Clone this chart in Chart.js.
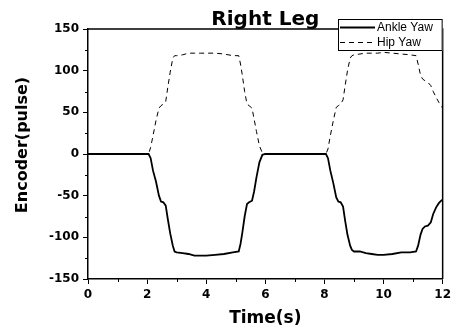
<!DOCTYPE html>
<html>
<head>
<meta charset="utf-8">
<script src="https://cdn.jsdelivr.net/npm/chart.js@4.4.1/dist/chart.umd.min.js"></script>
<style>
  html, body { margin: 0; padding: 0; background: #fff; }
</style>
</head>
<body>
<canvas id="grafico" width="455" height="333"></canvas>
<script>
// tempo (s)
const tempo = [0, 2.05, 2.12, 2.2, 2.3, 2.4, 2.47, 2.55, 2.63, 2.7, 2.78, 2.87, 2.93, 3.0, 3.2, 3.4, 3.6, 3.8, 4.0, 4.3, 4.6, 4.9,
  5.1, 5.16, 5.22, 5.3, 5.38, 5.45, 5.55, 5.62, 5.7, 5.8, 5.9, 6.0, 6.5, 7.0, 7.5, 8.05, 8.12, 8.2, 8.3, 8.4, 8.47, 8.55, 8.63,
  8.7, 8.78, 8.87, 8.93, 9.0, 9.2, 9.4, 9.6, 9.8, 10.0, 10.3, 10.6, 10.9, 11.1, 11.17, 11.25, 11.32, 11.4, 11.5, 11.6, 11.68,
  11.78, 11.87, 11.95, 12.0];

// encoder (pulse)
const ankleYaw = [0, 0, -5, -20, -33, -50, -57, -58, -62, -78, -95, -110, -117, -118, -119, -120, -122, -122, -122, -121, -120, -118,
  -117, -108, -95, -75, -60, -58, -56, -45, -28, -10, -1, 0, 0, 0, 0, 0, -5, -20, -35, -52, -57, -58, -63,
  -80, -97, -110, -115, -117, -117, -119, -120, -121, -121, -120, -118, -118, -117, -110, -97, -90, -87, -86, -82, -72,
  -64, -59, -56, -55];

const hipYaw = [0, 0, 8, 22, 40, 55, 58, 60, 63, 80, 98, 115, 118, 118, 119, 121, 121, 121, 121, 121, 120, 118,
  118, 108, 95, 75, 60, 58, 55, 42, 27, 10, 1, 0, 0, 0, 0, 0, 6, 22, 40, 56, 58, 60, 65,
  82, 100, 115, 118, 119, 120, 121, 121, 121, 122, 121, 120, 119, 118, 108, 95, 90, 88, 86, 82, 75,
  68, 62, 58, 55];

const rotulosX = [0, 2, 4, 6, 8, 10, 12];
const rotulosY = [-150, -100, -50, 0, 50, 100, 150];

const fonteNum = { family: 'DejaVu Sans', size: 12, weight: 'bold' };

const extras = {
  id: 'extras',
  afterDraw(chart) {
    const ctx = chart.ctx;
    const a = chart.chartArea;
    const sx = chart.scales.x, sy = chart.scales.y;
    ctx.save();
    ctx.strokeStyle = '#000';
    // moldura superior e direita
    ctx.lineWidth = 1.5;
    ctx.beginPath();
    ctx.moveTo(a.left, a.top);
    ctx.lineTo(a.right, a.top);
    ctx.lineTo(a.right, a.bottom);
    ctx.stroke();

    // ticks menores
    ctx.lineWidth = 1;
    ctx.beginPath();
    sx.ticks.forEach(t => {
      if (!rotulosX.includes(t.value)) {
        const p = Math.round(sx.getPixelForValue(t.value)) + 0.5;
        ctx.moveTo(p, a.bottom); ctx.lineTo(p, a.bottom + 3);
      }
    });
    sy.ticks.forEach(t => {
      if (!rotulosY.includes(t.value)) {
        const p = Math.round(sy.getPixelForValue(t.value)) + 0.5;
        ctx.moveTo(a.left - 3, p); ctx.lineTo(a.left, p);
      }
    });
    ctx.stroke();

    // titulo
    ctx.fillStyle = '#000';
    ctx.font = 'bold 20px "DejaVu Sans"';
    ctx.textAlign = 'center';
    ctx.textBaseline = 'alphabetic';
    ctx.fillText('Right Leg', (a.left + a.right) / 2, 25);

    // titulo do eixo y
    ctx.save();
    ctx.translate(23, 145);
    ctx.rotate(-Math.PI / 2);
    ctx.font = 'bold 16px "DejaVu Sans"';
    ctx.textBaseline = 'middle';
    ctx.fillText('Encoder(pulse)', 0, 0);
    ctx.restore();

    // legenda
    const lx = 338, ly = 19, lw = a.right - lx, lh = 32;
    ctx.fillStyle = '#fff';
    ctx.fillRect(lx, ly, lw, lh);
    ctx.lineWidth = 1;
    ctx.strokeRect(lx + 0.5, ly + 0.5, lw - 1, lh - 1);
    ctx.font = '12px "Liberation Sans"';
    ctx.textAlign = 'left';
    ctx.textBaseline = 'middle';
    chart.data.datasets.forEach((ds, i) => {
      const y = ly + 8.5 + i * 15;
      ctx.strokeStyle = ds.borderColor;
      ctx.lineWidth = ds.borderWidth;
      ctx.setLineDash(ds.borderDash || []);
      ctx.beginPath();
      ctx.moveTo(lx + 2, y);
      ctx.lineTo(lx + 37, y);
      ctx.stroke();
      ctx.setLineDash([]);
      ctx.fillStyle = '#000';
      ctx.fillText(ds.label, lx + 39, y);
    });
    ctx.restore();
  }
};

const ctx = document.getElementById('grafico').getContext('2d');
new Chart(ctx, {
  type: 'line',
  data: {
    datasets: [
      {
        label: 'Ankle Yaw',
        data: tempo.map((t, i) => ({ x: t, y: ankleYaw[i] })),
        borderColor: '#000',
        borderWidth: 1.8,
        pointRadius: 0,
        tension: 0,
        order: 0
      },
      {
        label: 'Hip Yaw',
        data: tempo.map((t, i) => ({ x: t, y: hipYaw[i] })),
        borderColor: '#000',
        borderWidth: 1,
        borderDash: [5, 4],
        pointRadius: 0,
        tension: 0,
        order: 1
      }
    ]
  },
  options: {
    responsive: false,
    animation: false,
    layout: { padding: { top: 29, right: 11, left: 0, bottom: 0 } },
    plugins: {
      legend: { display: false },
      title: { display: false },
      tooltip: { enabled: false }
    },
    scales: {
      x: {
        type: 'linear',
        min: 0,
        max: 12,
        afterFit: s => { s.height = 54; },
        ticks: {
          stepSize: 1,
          autoSkip: false,
          maxRotation: 0,
          padding: 4,
          color: '#000',
          font: fonteNum,
          callback: v => rotulosX.includes(v) ? v : ''
        },
        grid: {
          drawOnChartArea: false,
          tickLength: 5,
          tickColor: c => rotulosX.includes(c.tick.value) ? '#000' : 'rgba(0,0,0,0)',
          tickWidth: 1
        },
        border: { color: '#000', width: 1.5 },
        title: {
          display: true,
          text: 'Time(s)',
          color: '#000',
          font: { family: 'DejaVu Sans', size: 17, weight: 'bold' },
          padding: { top: 0, bottom: 4 }
        }
      },
      y: {
        min: -150,
        max: 150,
        afterFit: s => { s.width = 88; },
        ticks: {
          stepSize: 25,
          autoSkip: false,
          padding: 4,
          color: '#000',
          font: fonteNum,
          callback: v => rotulosY.includes(v) ? v : ''
        },
        grid: {
          drawOnChartArea: false,
          tickLength: 5,
          tickColor: c => rotulosY.includes(c.tick.value) ? '#000' : 'rgba(0,0,0,0)',
          tickWidth: 1
        },
        border: { color: '#000', width: 1.5 }
      }
    }
  },
  plugins: [extras]
});
</script>
</body>
</html>
